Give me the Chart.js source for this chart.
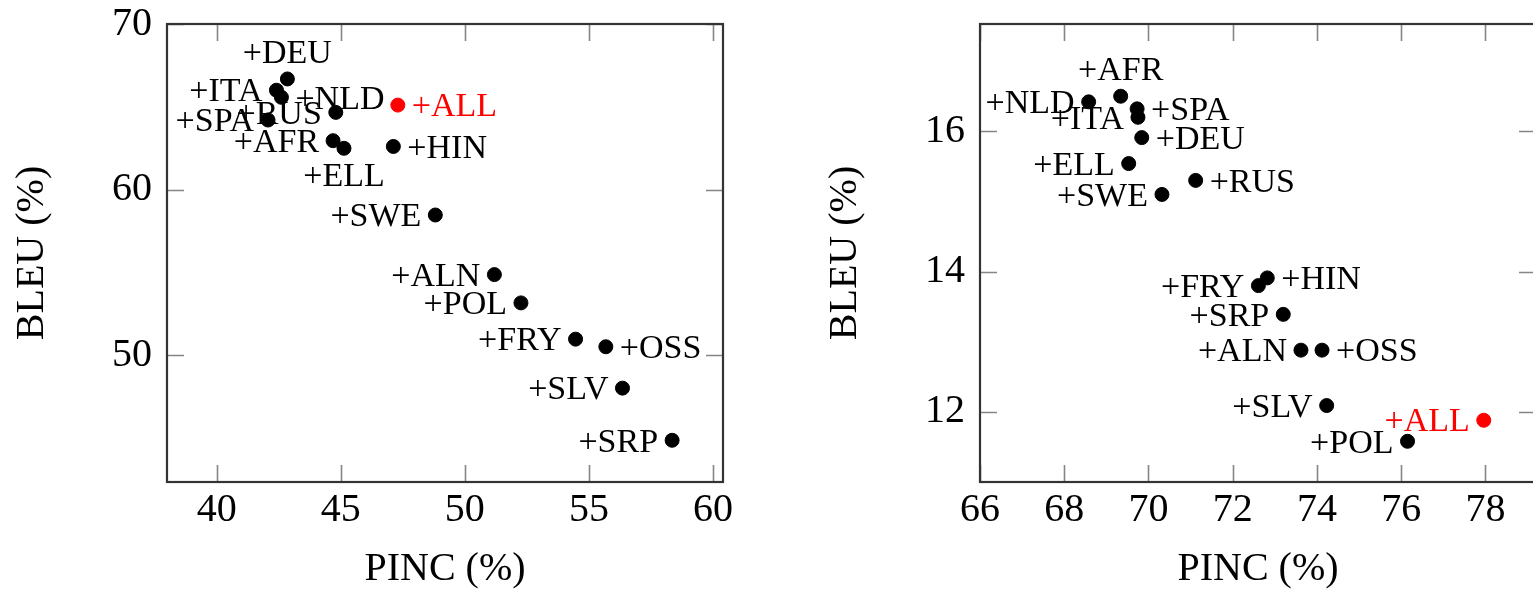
<!DOCTYPE html>
<html>
<head>
<meta charset="utf-8">
<title>BLEU vs PINC</title>
<script src="https://cdn.jsdelivr.net/npm/chart.js@4.4.1/dist/chart.umd.min.js"></script>
<style>
    html, body { margin: 0; padding: 0; background: #fff; overflow: hidden; }
    #wrap { position: relative; width: 1533px; height: 589px; overflow: hidden; }
    canvas { position: absolute; top: 0; }
    #chart-left { left: 0; }
    #chart-right { left: 813px; }
</style>
</head>
<body>
<div id="wrap">
    <canvas id="chart-left" width="766" height="589"></canvas>
    <canvas id="chart-right" width="766" height="589"></canvas>
</div>
<script>
// --- Data: left panel ---
const leftLangs = ['DEU', 'ITA', 'NLD', 'RUS', 'SPA', 'AFR', 'ELL', 'HIN', 'SWE', 'ALN', 'POL', 'FRY', 'OSS', 'SLV', 'SRP'];
const leftPinc  = [42.85, 42.41, 42.61, 44.80, 42.07, 44.69, 45.13, 47.12, 48.81, 51.19, 52.26, 54.46, 55.68, 56.35, 58.35];
const leftBleu  = [66.68, 66.00, 65.57, 64.66, 64.20, 62.95, 62.49, 62.60, 58.46, 54.86, 53.15, 50.96, 50.50, 48.00, 44.85];
const leftAll   = { pinc: 47.30, bleu: 65.10 };
const leftXTicks = [40, 45, 50, 55, 60];
const leftYTicks = [50, 60, 70];

// --- Data: right panel ---
const rightLangs = ['AFR', 'NLD', 'SPA', 'ITA', 'DEU', 'ELL', 'RUS', 'SWE', 'HIN', 'FRY', 'SRP', 'ALN', 'OSS', 'SLV', 'POL'];
const rightPinc  = [69.34, 68.58, 69.73, 69.75, 69.84, 69.53, 71.12, 70.32, 72.82, 72.61, 73.20, 73.62, 74.12, 74.23, 76.15];
const rightBleu  = [16.50, 16.42, 16.32, 16.20, 15.91, 15.54, 15.30, 15.10, 13.91, 13.80, 13.39, 12.88, 12.88, 12.09, 11.58];
const rightAll   = { pinc: 77.96, bleu: 11.88 };
const rightXTicks = [66, 68, 70, 72, 74, 76, 78];
const rightYTicks = [12, 14, 16];

// --- Label placement (which side of the dot the "+XXX" text sits) ---
const leftSides = {
    DEU: 'above', ITA: 'left', NLD: 'right', RUS: 'left', SPA: 'left', AFR: 'left', ELL: 'below',
    HIN: 'right', SWE: 'left', ALN: 'left', POL: 'left', FRY: 'left', OSS: 'right', SLV: 'left',
    SRP: 'left', ALL: 'right'
};
const rightSides = {
    AFR: 'above', NLD: 'left', SPA: 'right', ITA: 'left', DEU: 'right', ELL: 'left', RUS: 'right',
    SWE: 'left', HIN: 'right', FRY: 'left', SRP: 'left', ALN: 'left', OSS: 'right', SLV: 'left',
    POL: 'left', ALL: 'left'
};

const SERIF = "'Liberation Serif', 'Times New Roman', serif";
Chart.defaults.font.family = SERIF;
Chart.defaults.color = '#000';

// --- Plugins ---
// pgfplots-like frame with inward ticks on all four sides
const framePlugin = {
    id: 'frame',
    afterDraw(chart) {
        const { ctx, chartArea: a, scales } = chart;
        const len = 17;
        ctx.save();
        ctx.strokeStyle = '#858585';
        ctx.lineWidth = 1.6;
        ctx.beginPath();
        scales.x.ticks.forEach(t => {
            const px = Math.round(scales.x.getPixelForValue(t.value)) + 0.5;
            ctx.moveTo(px, a.bottom); ctx.lineTo(px, a.bottom - len);
            ctx.moveTo(px, a.top); ctx.lineTo(px, a.top + len);
        });
        scales.y.ticks.forEach(t => {
            const py = Math.round(scales.y.getPixelForValue(t.value)) + 0.5;
            ctx.moveTo(a.left, py); ctx.lineTo(a.left + len, py);
            ctx.moveTo(a.right, py); ctx.lineTo(a.right - len, py);
        });
        ctx.stroke();
        ctx.strokeStyle = '#333';
        ctx.lineWidth = 2.2;
        ctx.strokeRect(a.left, a.top, a.right - a.left, a.bottom - a.top);
        ctx.restore();
    }
};

// "+XXX" text next to each point
const pointLabelPlugin = {
    id: 'pointLabels',
    afterDatasetsDraw(chart, args, opts) {
        const { ctx, scales } = chart;
        const size = 34;
        const cap = size * 0.33;
        ctx.save();
        ctx.font = `${size}px ${SERIF}`;
        chart.data.datasets.forEach(ds => {
            ds.data.forEach(p => {
                const px = scales.x.getPixelForValue(p.x);
                const py = scales.y.getPixelForValue(p.y);
                const side = opts.sides[p.name] || 'left';
                const text = '+' + p.name;
                ctx.fillStyle = ds.backgroundColor;
                if (side === 'left') {
                    ctx.textAlign = 'right';
                    ctx.fillText(text, px - 14, py + cap);
                } else if (side === 'right') {
                    ctx.textAlign = 'left';
                    ctx.fillText(text, px + 14, py + cap);
                } else if (side === 'above') {
                    ctx.textAlign = 'center';
                    ctx.fillText(text, px, py - 27 + cap);
                } else {
                    ctx.textAlign = 'center';
                    ctx.fillText(text, px, py + 26 + cap);
                }
            });
        });
        ctx.restore();
    }
};

// --- Helpers ---
const toPoints = (langs, xs, ys) => langs.map((name, i) => ({ x: xs[i], y: ys[i], name }));

function buildChart(canvasId, cfg) {
    const tickFont = { size: 40, lineHeight: 1 };
    return new Chart(document.getElementById(canvasId), {
        type: 'scatter',
        data: {
            datasets: [
                {
                    data: toPoints(cfg.langs, cfg.xs, cfg.ys),
                    backgroundColor: '#000',
                    borderColor: '#000',
                    pointRadius: 7,
                    pointHoverRadius: 7,
                },
                {
                    data: [{ x: cfg.all.pinc, y: cfg.all.bleu, name: 'ALL' }],
                    backgroundColor: '#ff0000',
                    borderColor: '#ff0000',
                    pointRadius: 7,
                    pointHoverRadius: 7,
                }
            ]
        },
        options: {
            responsive: false,
            animation: false,
            clip: false,
            layout: { padding: { top: 24, right: 43, bottom: 0, left: 0 } },
            plugins: {
                legend: { display: false },
                tooltip: { enabled: false },
                pointLabels: { sides: cfg.sides }
            },
            scales: {
                x: {
                    type: 'linear',
                    min: cfg.xMin,
                    max: cfg.xMax,
                    afterBuildTicks: s => { s.ticks = cfg.xTicks.map(v => ({ value: v })); },
                    afterFit: s => { s.height = 107; s.paddingLeft = 0; s.paddingRight = 0; },
                    grid: { display: false, drawTicks: false },
                    border: { display: false },
                    ticks: { font: tickFont, padding: 8, maxRotation: 0, color: '#000' },
                    title: { display: true, text: 'PINC (%)', font: tickFont, padding: { top: 0, bottom: 0 }, color: '#000' }
                },
                y: {
                    type: 'linear',
                    min: cfg.yMin,
                    max: cfg.yMax,
                    afterBuildTicks: s => { s.ticks = cfg.yTicks.map(v => ({ value: v })); },
                    afterFit: s => { s.width = 167; s.paddingTop = 0; s.paddingBottom = 0; },
                    grid: { display: false, drawTicks: false },
                    border: { display: false },
                    ticks: { font: tickFont, padding: 15, color: '#000' },
                    title: { display: true, text: 'BLEU (%)', font: tickFont, padding: { top: 12, bottom: 0 }, color: '#000' }
                }
            }
        },
        plugins: [pointLabelPlugin, framePlugin]
    });
}

document.addEventListener('DOMContentLoaded', function () {
    buildChart('chart-left', {
        langs: leftLangs, xs: leftPinc, ys: leftBleu, all: leftAll, sides: leftSides,
        xMin: 38, xMax: 60.4, yMin: 42.33, yMax: 70,
        xTicks: leftXTicks, yTicks: leftYTicks
    });
    buildChart('chart-right', {
        langs: rightLangs, xs: rightPinc, ys: rightBleu, all: rightAll, sides: rightSides,
        xMin: 66, xMax: 79.2, yMin: 11, yMax: 17.53,
        xTicks: rightXTicks, yTicks: rightYTicks
    });
});
</script>
</body>
</html>
